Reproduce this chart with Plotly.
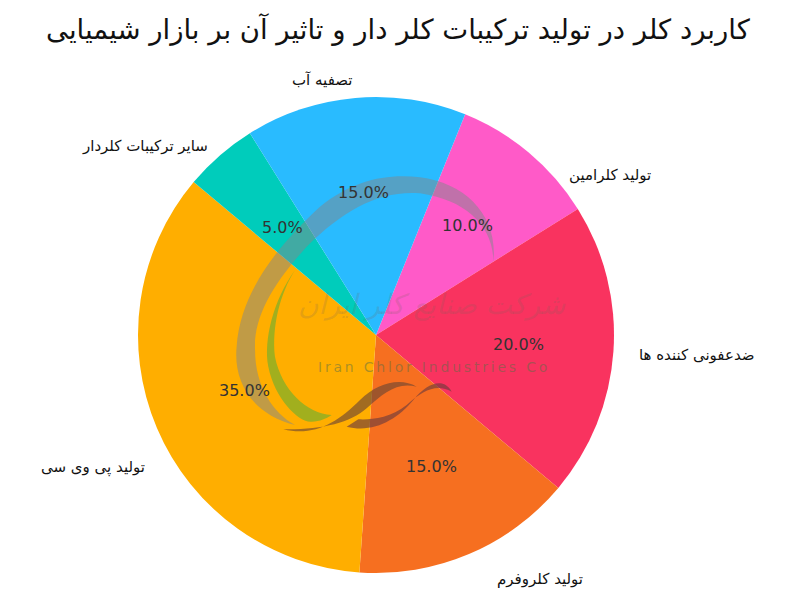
import math
import plotly.graph_objects as go

title = "کاربرد کلر در تولید ترکیبات کلر دار و تاثیر آن بر بازار شیمیایی"
labels = ["تولید کلرامین", "ضدعفونی کننده ها", "تولید کلروفرم", "تولید پی وی سی", "سایر ترکیبات کلردار", "تصفیه آب"]
values = [10, 20, 15, 35, 5, 15]
colors = ["#FF5AC8", "#F9335F", "#F66F20", "#FFAE00", "#00CCBB", "#29BBFF"]

W, H = 800, 610
OFF = 8  # page body margin
CX, CY, R = 376, 335, 238
START = 22

label_px = [(653, 175, "right"), (757, 355, "right"), (585, 579, "right"),
            (147, 468, "right"), (210, 146, "right"), (354, 80, "right")]


def px(x):
    return (x - OFF) / W


def py(y):
    return 1 - (y - OFF) / H


def zoom_path(cmds):
    out = []
    for c in cmds:
        if isinstance(c, str):
            out.append(c)
        else:
            out.append(f"{px(c[0] / 3 + 220):.4f},{py(c[1] / 3 + 160):.4f}")
    return " ".join(out).replace("M ", "M").replace("C ", "C").replace(" Z", "Z")


fig = go.Figure(go.Pie(
    labels=labels, values=values, sort=False, direction="clockwise", rotation=START,
    marker=dict(colors=colors, line=dict(width=0)), textinfo="none", hoverinfo="label+percent",
    showlegend=False,
    domain=dict(x=[px(CX - R), px(CX + R)], y=[py(CY + R), py(CY - R)]),
))

ann = []
total = sum(values)
acc = 0
for v in values:
    mid = math.radians(START + (acc + v / 2) / total * 360)
    acc += v
    ann.append(dict(x=px(CX + 0.6 * R * math.sin(mid)), y=py(CY - 0.6 * R * math.cos(mid)),
                    text=f"{v / total * 100:.1f}%", showarrow=False, xanchor="center", yanchor="middle",
                    font=dict(family="DejaVu Sans", size=16, color="#333333")))
for t, (x, y, a) in zip(labels, label_px):
    ann.append(dict(x=px(x), y=py(y), text=t, showarrow=False, xanchor=a, yanchor="middle",
                    font=dict(family="DejaVu Sans", size=15, color="#111111")))
ann.append(dict(x=px(398), y=py(29), text=title, showarrow=False, xanchor="center", yanchor="middle",
                font=dict(family="DejaVu Sans", size=27.5, color="#111111")))
ann.append(dict(x=px(432), y=py(367), text="\u2009".join("Iran Chlor Industries Co"), showarrow=False,
                font=dict(family="DejaVu Sans", size=14, color="rgba(90,110,70,0.5)")))
ann.append(dict(x=px(432), y=py(305), text="<i>شرکت صنایع کلر ایران</i>", showarrow=False,
                font=dict(family="DejaVu Sans", size=28, color="rgba(120,100,90,0.2)")))

ring = zoom_path(["M", (225, 795), "C", (90, 760), (40, 660), (50, 560), "C", (60, 400), (170, 260), (300, 140),
                  "C", (400, 60), (500, 40), (600, 52), "C", (740, 70), (835, 170), (820, 305),
                  "C", (820, 200), (740, 120), (600, 100), "C", (480, 90), (370, 150), (260, 260),
                  "C", (160, 370), (100, 470), (105, 570), "C", (105, 680), (160, 760), (225, 795), "Z"])
green = zoom_path(["M", (225, 330), "C", (160, 420), (130, 540), (145, 620), "C", (165, 720), (240, 790), (275, 785),
                   "C", (300, 785), (320, 775), (335, 765), "C", (260, 760), (185, 690), (165, 590),
                   "C", (155, 500), (180, 400), (225, 330), "Z"])
wave1 = zoom_path(["M", (190, 808), "C", (280, 830), (350, 790), (420, 720), "C", (470, 670), (540, 650), (590, 680),
                   "C", (530, 665), (490, 700), (440, 745), "C", (390, 790), (300, 810), (190, 808), "Z"])
wave2 = zoom_path(["M", (380, 800), "C", (460, 820), (530, 780), (580, 720), "C", (620, 670), (670, 650), (695, 695),
                   "C", (650, 670), (610, 690), (560, 735), "C", (510, 775), (450, 780), (415, 778), "Z"])
shapes = [
    dict(type="path", xref="paper", yref="paper", path=ring, fillcolor="rgba(130,135,140,0.5)", line=dict(width=0)),
    dict(type="path", xref="paper", yref="paper", path=green, fillcolor="rgba(130,175,40,0.75)", line=dict(width=0)),
    dict(type="path", xref="paper", yref="paper", path=wave1, fillcolor="rgba(110,70,50,0.65)", line=dict(width=0)),
    dict(type="path", xref="paper", yref="paper", path=wave2, fillcolor="rgba(110,60,60,0.65)", line=dict(width=0)),
]

fig.update_layout(width=W, height=H, margin=dict(l=0, r=0, t=0, b=0), paper_bgcolor="white",
                  annotations=ann, shapes=shapes)
fig.write_html("out.html")
